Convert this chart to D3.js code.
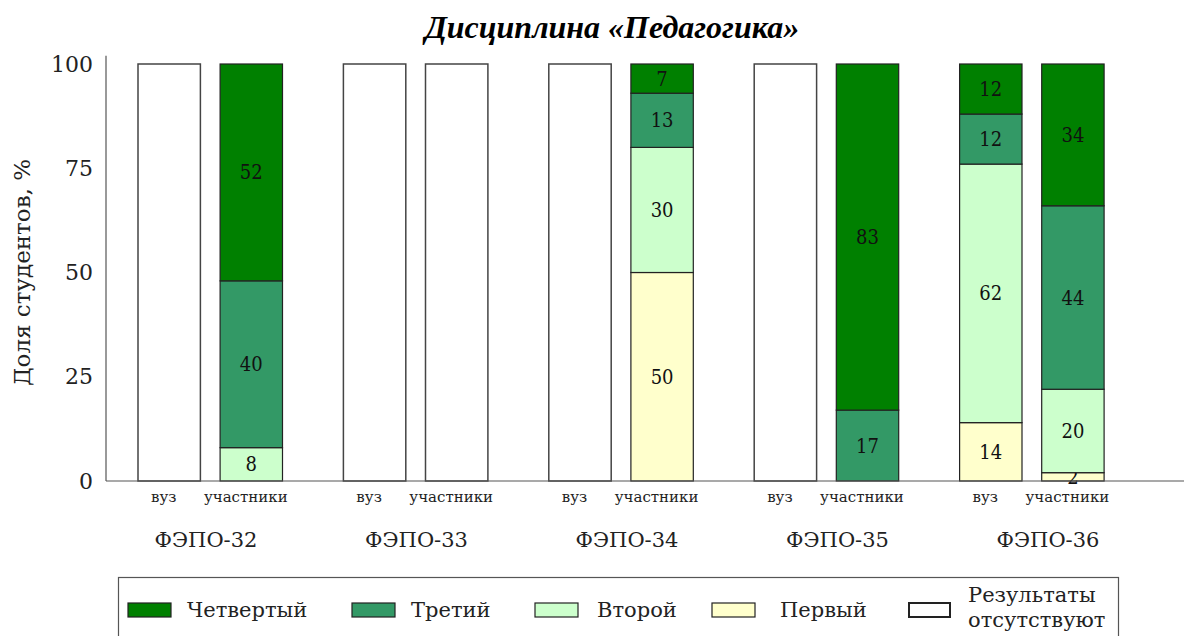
<!DOCTYPE html>
<html>
<head>
<meta charset="utf-8">
<script src="https://cdn.jsdelivr.net/npm/d3@7"></script>
<style>
  body { margin: 0; background: #fff; }
  svg { display: block; }
</style>
</head>
<body>
<script>
// data
const groups = ['ФЭПО-32', 'ФЭПО-33', 'ФЭПО-34', 'ФЭПО-35', 'ФЭПО-36'];
const subGroups = ['вуз', 'участники'];
const levels = ['Первый', 'Второй', 'Третий', 'Четвертый'];
const legendOrder = ['Четвертый', 'Третий', 'Второй', 'Первый'];
const missingLabel = ['Результаты', 'отсутствуют'];
const yTicks = [0, 25, 50, 75, 100];

// values per group: [Первый, Второй, Третий, Четвертый], null = no results
const vuzValues = [null, null, null, null, [14, 62, 12, 12]];
const partValues = [[0, 8, 40, 52], null, [50, 30, 13, 7], [0, 0, 17, 83], [2, 20, 44, 34]];

const colors = {
  'Первый': '#ffffcc',
  'Второй': '#ccffcc',
  'Третий': '#339966',
  'Четвертый': '#008000'
};

const W = 1184, H = 636;
const svg = d3.select('body').append('svg')
  .attr('width', W)
  .attr('height', H);

const serif = 'DejaVu Serif, serif';

// scales
const yScale = d3.scaleLinear().domain([0, 100]).range([481, 64]);
const xGroup = d3.scaleBand().domain(groups).range([107.5, 1134.5]).padding(0);
const xSub = d3.scaleBand().domain(subGroups).range([30.5, 175]).paddingInner(0.24).paddingOuter(0);
// group captions sit on a slightly wider spacing than the bars
const xCaption = d3.scalePoint().domain(groups).range([206, 1048]);

// title
svg.append('text')
  .attr('x', 612)
  .attr('y', 38)
  .attr('text-anchor', 'middle')
  .attr('font-family', 'Liberation Serif, Times New Roman, serif')
  .attr('font-style', 'italic')
  .attr('font-weight', 'bold')
  .attr('font-size', '32px')
  .text('Дисциплина «Педагогика»');

// y axis
const yAxis = svg.append('g')
  .attr('transform', 'translate(106,0)')
  .call(d3.axisLeft(yScale).tickValues(yTicks).tickSize(0).tickPadding(13));
yAxis.select('.domain').remove();
yAxis.selectAll('text')
  .attr('font-family', serif)
  .attr('font-size', '22px')
  .attr('fill', '#222');

svg.append('line')
  .attr('x1', 106).attr('x2', 106)
  .attr('y1', yScale(0)).attr('y2', yScale(102))
  .attr('stroke', '#555').attr('stroke-width', 1.2);

svg.append('text')
  .attr('transform', 'translate(30,' + yScale(50) + ') rotate(-90)')
  .attr('text-anchor', 'middle')
  .attr('font-family', serif)
  .attr('font-size', '23px')
  .attr('fill', '#222')
  .text('Доля студентов, %');

// build bar records
const bars = [];
groups.forEach((g, i) => {
  [vuzValues[i], partValues[i]].forEach((vals, j) => {
    bars.push({ group: g, sub: subGroups[j], values: vals });
  });
});

const barX = d => xGroup(d.group) + xSub(d.sub);
const bw = xSub.bandwidth();

bars.forEach(b => {
  const g = svg.append('g');
  if (!b.values) {
    g.append('rect')
      .attr('x', barX(b))
      .attr('y', yScale(100))
      .attr('width', bw)
      .attr('height', yScale(0) - yScale(100))
      .attr('fill', '#fff')
      .attr('stroke', '#444')
      .attr('stroke-width', 1.5);
    return;
  }
  let acc = 0;
  b.values.forEach((v, k) => {
    const y0 = acc, y1 = acc + v;
    acc = y1;
    if (v <= 0) return;
    g.append('rect')
      .attr('x', barX(b))
      .attr('y', yScale(y1))
      .attr('width', bw)
      .attr('height', yScale(y0) - yScale(y1))
      .attr('fill', colors[levels[k]])
      .attr('stroke', '#222')
      .attr('stroke-width', 1.2);
    g.append('text')
      .attr('x', barX(b) + bw / 2)
      .attr('y', yScale((y0 + y1) / 2))
      .attr('dy', '0.35em')
      .attr('text-anchor', 'middle')
      .attr('font-family', 'DejaVu Serif Condensed, DejaVu Serif, serif')
      .attr('font-size', '20px')
      .attr('fill', '#111')
      .text(v);
  });
});

// x axis line
svg.append('line')
  .attr('x1', 106).attr('x2', W)
  .attr('y1', yScale(0)).attr('y2', yScale(0))
  .attr('stroke', '#555').attr('stroke-width', 1.2);

// sub labels
svg.selectAll('.sub-label')
  .data(bars)
  .enter().append('text')
  .attr('class', 'sub-label')
  .attr('x', d => barX(d) + bw / 2 - 5.5)
  .attr('y', 502)
  .attr('text-anchor', 'middle')
  .attr('font-family', serif)
  .attr('font-size', '15px')
  .attr('fill', '#222')
  .text(d => d.sub);

// group labels
svg.selectAll('.group-label')
  .data(groups)
  .enter().append('text')
  .attr('class', 'group-label')
  .attr('x', d => xCaption(d))
  .attr('y', 547)
  .attr('text-anchor', 'middle')
  .attr('font-family', serif)
  .attr('font-size', '21px')
  .attr('fill', '#222')
  .text(d => d);

// legend
const legend = svg.append('g');
legend.append('rect')
  .attr('x', 118.5).attr('y', 577.5)
  .attr('width', 1000).attr('height', 80)
  .attr('fill', '#fff')
  .attr('stroke', '#555').attr('stroke-width', 1.2);

const legendX = [128, 352, 535, 712];
const legendTextX = [187, 411, 597, 780];
legendOrder.forEach((name, i) => {
  legend.append('rect')
    .attr('x', legendX[i]).attr('y', 603)
    .attr('width', 43).attr('height', 14)
    .attr('fill', colors[name])
    .attr('stroke', '#222').attr('stroke-width', 1.2);
  legend.append('text')
    .attr('x', legendTextX[i]).attr('y', 617)
    .attr('font-family', serif)
    .attr('font-size', '21px')
    .attr('fill', '#222')
    .text(name);
});
legend.append('rect')
  .attr('x', 909).attr('y', 603)
  .attr('width', 41).attr('height', 14)
  .attr('fill', '#fff')
  .attr('stroke', '#222').attr('stroke-width', 2);
legend.selectAll('.miss')
  .data(missingLabel)
  .enter().append('text')
  .attr('class', 'miss')
  .attr('x', 968)
  .attr('y', (d, i) => 602 + i * 25)
  .attr('font-family', serif)
  .attr('font-size', '21px')
  .attr('fill', '#222')
  .text(d => d);
</script>
</body>
</html>
